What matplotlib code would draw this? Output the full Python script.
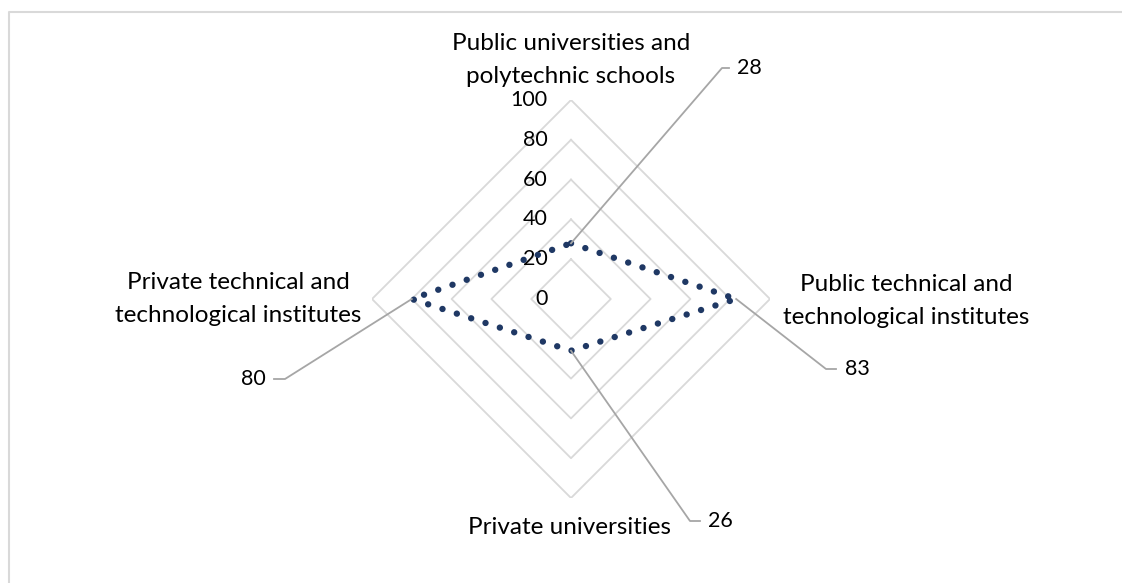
import numpy as np
import matplotlib
matplotlib.use("Agg")
import matplotlib.pyplot as plt
from matplotlib.lines import Line2D

# chart data
categories = ["Public universities and\npolytechnic schools",
              "Public technical and\ntechnological institutes",
              "Private universities",
              "Private technical and\ntechnological institutes"]
values = [28, 83, 26, 80]
ring_levels = [0, 20, 40, 60, 80, 100]

W, H = 1122, 583
plt.rcParams['font.family'] = ['Lato', 'DejaVu Sans']
fig = plt.figure(figsize=(W / 100, H / 100), dpi=100)

# polar axes placed so the centre sits where the reference has it
cx, cy, rad = 571, 299, 199
ax = fig.add_axes([(cx - rad) / W, (H - cy - rad) / H, 2 * rad / W, 2 * rad / H],
                  projection='polar')
ax.set_theta_zero_location('N')
ax.set_theta_direction(-1)
ax.set_ylim(0, 100)
ax.grid(False)
ax.spines['polar'].set_visible(False)
ax.set_xticks([])
ax.set_yticks([])
ax.patch.set_alpha(0)

n = len(categories)
theta = np.linspace(0, 2 * np.pi, n, endpoint=False)
theta_closed = np.append(theta, theta[0])

# diamond grid rings
for lv in ring_levels[1:]:
    ax.plot(theta_closed, [lv] * (n + 1), color='#D9D9D9', lw=1.3, zorder=1)

# ring labels along the top axis
for lv in ring_levels:
    ax.annotate(str(lv), xy=(0, lv), xytext=(-17, 0), textcoords='offset points',
                ha='right', va='center', fontsize=15.5, color='#000000')

# data series, round dots
vals_closed = values + values[:1]
ax.plot(theta_closed, vals_closed, color='#1F3864', lw=4.6,
        linestyle=(0, (0.01, 2.35)), dash_capstyle='round', zorder=3)

# category labels (centre positions in pixels)
cat_pos = [(571, 60), (906, 301), (569, 528), (238, 299)]
for lab, (x, y) in zip(categories, cat_pos):
    fig.text(x / W, 1 - y / H, lab, ha='center', va='center', fontsize=17.5,
             linespacing=1.68)

# data labels with leader lines
fig.canvas.draw()
elbows = [(722, 68, 729, 737, 'left'),
          (826, 369, 836, 845, 'left'),
          (690, 521, 700, 708, 'left'),
          (285, 379, 274, 266, 'right')]
for t, v, (ex, ey, hx, tx, ha) in zip(theta, values, elbows):
    px, py = ax.transData.transform((t, v))
    ln = Line2D([px, ex, hx], [py, H - ey, H - ey], color='#A6A6A6', lw=1.3,
                transform=None, zorder=2)
    fig.add_artist(ln)
    fig.text(tx / W, 1 - ey / H, str(v), ha=ha, va='center', fontsize=15.5)

# chart area border (top and left visible)
fig.add_artist(Line2D([8.5, 8.5, W], [0, H - 11.5, H - 11.5], color='#D9D9D9',
                      lw=1.5, transform=None))

fig.savefig('out.png', dpi=100)
